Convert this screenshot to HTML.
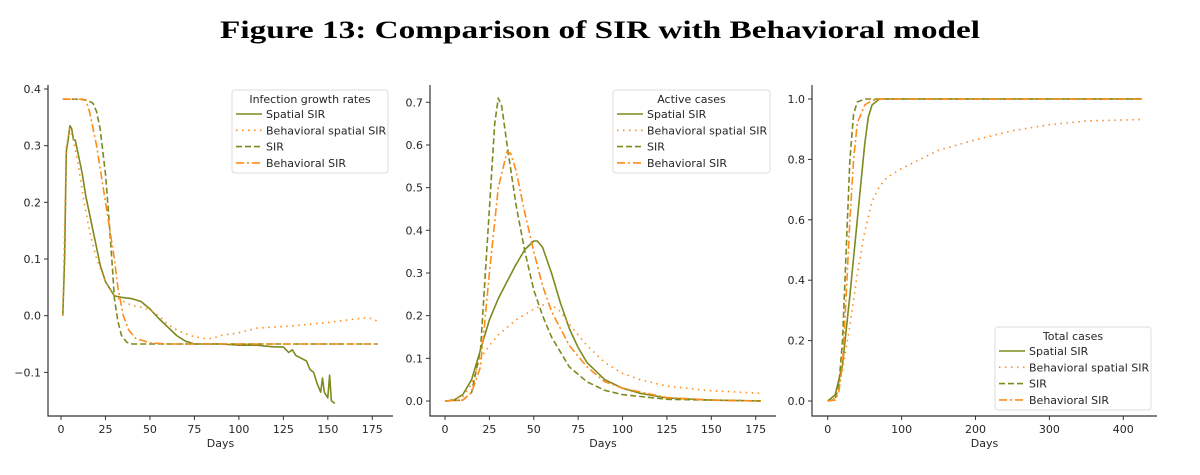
<!DOCTYPE html>
<html><head><meta charset="utf-8"><style>
body{margin:0;background:#fff;width:1200px;height:470px;overflow:hidden}
svg text{font-family:"DejaVu Sans","Liberation Sans",sans-serif;fill:#262626}
</style></head><body>
<svg id="fig" width="1200" height="470" xmlns="http://www.w3.org/2000/svg">
<text x="220" y="38" textLength="760" lengthAdjust="spacingAndGlyphs" style="font-family:'Liberation Serif',serif;font-weight:bold;font-size:25px;fill:#000">Figure 13: Comparison of SIR with Behavioral model</text>
</svg>
<script>
// ---- data: panel 1 (Infection growth rates) ----
const p1SpatialX=[1,2,3,4,5,6,7,8,10,12,14,16,18,20,22,25,28,30,35,40,45,50,55,60,65,70,75,90,100,110,120,125,128,130,132,135,138,140,142,144,146,147,148,150,151,152,154];
const p1SpatialY=[0,0.1,0.29,0.31,0.335,0.33,0.31,0.31,0.28,0.25,0.21,0.18,0.15,0.12,0.09,0.06,0.045,0.035,0.032,0.03,0.025,0.012,-0.005,-0.02,-0.035,-0.045,-0.05,-0.05,-0.052,-0.052,-0.055,-0.055,-0.065,-0.06,-0.07,-0.075,-0.08,-0.095,-0.1,-0.12,-0.135,-0.11,-0.135,-0.145,-0.105,-0.15,-0.155];
const p1BehSpX=[1,3,5,7,10,13,16,20,25,30,35,40,45,50,55,60,65,70,75,80,85,90,100,110,120,130,140,150,160,170,175,178];
const p1BehSpY=[0,0.3,0.33,0.31,0.26,0.2,0.15,0.1,0.06,0.035,0.025,0.018,0.015,0.01,0,-0.015,-0.025,-0.032,-0.037,-0.04,-0.04,-0.035,-0.03,-0.022,-0.02,-0.018,-0.015,-0.012,-0.008,-0.004,-0.005,-0.01];
const p1SirX=[1,10,15,18,20,22,25,27,29,30,32,34,37,40,178];
const p1SirY=[0.382,0.382,0.38,0.375,0.36,0.33,0.25,0.17,0.08,0.03,-0.01,-0.035,-0.047,-0.05,-0.05];
const p1BehSirX=[1,12,14,16,20,25,30,32,35,38,42,50,60,178];
const p1BehSirY=[0.382,0.382,0.38,0.36,0.3,0.2,0.1,0.05,0,-0.025,-0.04,-0.048,-0.05,-0.05];
const p1XTicks=[0,25,50,75,100,125,150,175];
const p1YTicks=[-0.1,0,0.1,0.2,0.3,0.4];
const p1YLabels=["\u22120.1","0.0","0.1","0.2","0.3","0.4"];
// ---- data: panel 2 (Active cases) ----
const p2SpatialX=[0,5,10,15,20,25,30,35,40,45,50,52,55,60,65,70,75,80,90,100,110,125,150,178];
const p2SpatialY=[0,0.002,0.015,0.05,0.12,0.19,0.24,0.28,0.32,0.355,0.375,0.375,0.36,0.3,0.23,0.17,0.125,0.09,0.05,0.03,0.018,0.007,0.002,0];
const p2BehSpX=[0,10,15,20,25,30,40,50,55,60,65,70,80,90,100,110,125,150,178];
const p2BehSpY=[0,0.01,0.04,0.1,0.13,0.155,0.19,0.215,0.225,0.225,0.21,0.18,0.13,0.09,0.065,0.05,0.035,0.024,0.018];
const p2SirX=[0,10,15,20,25,28,30,32,35,40,45,50,55,60,70,80,90,100,125,178];
const p2SirY=[0,0.002,0.02,0.12,0.45,0.65,0.71,0.69,0.6,0.46,0.35,0.26,0.2,0.15,0.08,0.045,0.025,0.015,0.004,0];
const p2BehSirX=[0,10,15,20,25,30,35,37,40,45,50,55,60,70,80,90,100,125,150,178];
const p2BehSirY=[0,0.002,0.02,0.08,0.3,0.5,0.585,0.58,0.54,0.44,0.35,0.27,0.21,0.13,0.08,0.045,0.03,0.008,0.002,0];
const p2XTicks=[0,25,50,75,100,125,150,175];
const p2YTicks=[0,0.1,0.2,0.3,0.4,0.5,0.6,0.7];
const p2YLabels=["0.0","0.1","0.2","0.3","0.4","0.5","0.6","0.7"];
// ---- data: panel 3 (Total cases) ----
const p3SpatialX=[0,10,20,30,40,50,55,60,70,425];
const p3SpatialY=[0,0.02,0.12,0.35,0.6,0.85,0.94,0.98,1,1];
const p3BehSpX=[0,10,20,30,40,50,60,70,80,100,150,200,250,300,350,425];
const p3BehSpY=[0,0.01,0.1,0.25,0.42,0.56,0.66,0.71,0.74,0.77,0.83,0.865,0.895,0.915,0.927,0.932];
const p3SirX=[0,10,15,20,25,30,35,40,50,425];
const p3SirY=[0,0.005,0.05,0.2,0.5,0.8,0.95,0.99,1,1];
const p3BehSirX=[0,10,15,20,25,30,35,40,50,60,70,425];
const p3BehSirY=[0,0.003,0.03,0.12,0.35,0.6,0.8,0.92,0.98,0.995,1,1];
const p3XTicks=[0,100,200,300,400];
const p3YTicks=[0,0.2,0.4,0.6,0.8,1.0];
const p3YLabels=["0.0","0.2","0.4","0.6","0.8","1.0"];
const seriesNames=["Spatial SIR","Behavioral spatial SIR","SIR","Behavioral SIR"];

const NS="http://www.w3.org/2000/svg";
const svg=document.getElementById('fig');
const OLIVE="#7d8a1e", ORANGE="#ff8c1a";
const styles=[{c:OLIVE,d:""},{c:ORANGE,d:"1.5,4.5"},{c:OLIVE,d:"6,3"},{c:ORANGE,d:"8,3,2,3"}];
function mk(tag,attrs,parent){const e=document.createElementNS(NS,tag);for(const k in attrs)e.setAttribute(k,attrs[k]);(parent||svg).appendChild(e);return e;}

function panel(cfg){
  const g=mk('g',{});
  
  
  const sx=v=>cfg.x0px+(v-cfg.x0v)*(cfg.x1px-cfg.x0px)/(cfg.x1v-cfg.x0v);
  const sy=v=>cfg.y0px+(v-cfg.y0v)*(cfg.y1px-cfg.y0px)/(cfg.y1v-cfg.y0v);
  const ax=mk('path',{d:`M${cfg.left},${cfg.top}V${cfg.bottom}H${cfg.right}`,fill:'none',stroke:'#333','stroke-width':1.2},g);
  
  
  cfg.xt.forEach(t=>{
    const x=sx(t);
    mk('line',{x1:x,x2:x,y1:cfg.bottom,y2:cfg.bottom+4,stroke:'#333'},g);
    const tx=mk('text',{x:x,y:cfg.bottom+17,'text-anchor':'middle','font-size':11},g);
    
    
    tx.textContent=t;
  });
  cfg.yt.forEach((t,i)=>{
    const y=sy(t);
    mk('line',{x1:cfg.left-4,x2:cfg.left,y1:y,y2:y,stroke:'#333'},g);
    const tx=mk('text',{x:cfg.left-7,y:y+4,'text-anchor':'end','font-size':11},g);
    
    
    tx.textContent=cfg.yl[i];
  });
  const xl=mk('text',{x:(cfg.left+cfg.right)/2,y:cfg.bottom+31,'text-anchor':'middle','font-size':11},g);
  
  
  xl.textContent='Days';
  cfg.series.forEach((s,i)=>{
    const d=s[0].map((xv,j)=>(j?'L':'M')+sx(xv).toFixed(1)+','+sy(s[1][j]).toFixed(1)).join('');
    const p=mk('path',{d:d,fill:'none',stroke:styles[i].c,'stroke-width':1.6,'stroke-dasharray':styles[i].d,'stroke-linejoin':'round'},g);
    
    
  });
  const L=cfg.leg;
  const lg=mk('g',{},g);
  
  
  mk('rect',{x:L.x,y:L.y,width:L.w,height:L.h,rx:3,fill:'#fff',stroke:'#ddd'},lg);
  const tt=mk('text',{x:L.x+L.w/2,y:L.y+13,'text-anchor':'middle','font-size':11},lg);
  
  
  tt.textContent=cfg.title;
  seriesNames.forEach((n,i)=>{
    const y=L.y+28+i*16.3;
    mk('line',{x1:L.x+4,x2:L.x+30,y1:y-4,y2:y-4,stroke:styles[i].c,'stroke-width':1.6,'stroke-dasharray':styles[i].d},lg);
    const t=mk('text',{x:L.x+34,y:y,'font-size':11},lg);
    
    
    t.textContent=n;
  });
}
panel({name:'infection-growth-chart',title:'Infection growth rates',left:48,right:393,top:85,bottom:416,
  x0v:0,x1v:175,x0px:61,x1px:372.3,y0v:0,y1v:0.4,y0px:315.7,y1px:89,
  xt:p1XTicks,yt:p1YTicks,yl:p1YLabels,
  series:[[p1SpatialX,p1SpatialY],[p1BehSpX,p1BehSpY],[p1SirX,p1SirY],[p1BehSirX,p1BehSirY]],
  leg:{x:232,y:90,w:156,h:83}});
panel({name:'active-cases-chart',title:'Active cases',left:430,right:776,top:85,bottom:416,
  x0v:0,x1v:175,x0px:445,x1px:755.7,y0v:0,y1v:0.7,y0px:401,y1px:102.3,
  xt:p2XTicks,yt:p2YTicks,yl:p2YLabels,
  series:[[p2SpatialX,p2SpatialY],[p2BehSpX,p2BehSpY],[p2SirX,p2SirY],[p2BehSirX,p2BehSirY]],
  leg:{x:613,y:90,w:157,h:83}});
panel({name:'total-cases-chart',title:'Total cases',left:812,right:1157,top:85,bottom:416,
  x0v:0,x1v:400,x0px:827.7,x1px:1123.3,y0v:0,y1v:1,y0px:401,y1px:99,
  xt:p3XTicks,yt:p3YTicks,yl:p3YLabels,
  series:[[p3SpatialX,p3SpatialY],[p3BehSpX,p3BehSpY],[p3SirX,p3SirY],[p3BehSirX,p3BehSirY]],
  leg:{x:995,y:327,w:156,h:83}});
</script>
</body></html>
